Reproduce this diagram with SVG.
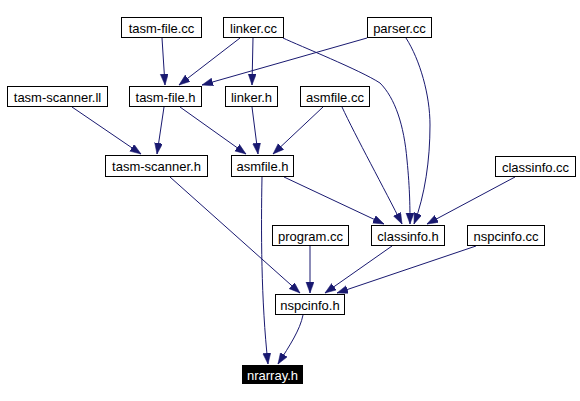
<svg xmlns="http://www.w3.org/2000/svg" width="580" height="401" viewBox="0 0 580 401">
<defs>
<marker id="arr" markerUnits="userSpaceOnUse" markerWidth="12" markerHeight="9" refX="11" refY="4" orient="auto">
<path d="M0,0 L11,4 L0,8 z" fill="#191970" stroke="#191970" stroke-width="0.5"/>
</marker>
<style>
.n rect{fill:#fff;stroke:#000;stroke-width:1}
.n text{font-family:"Liberation Sans",Arial,sans-serif;font-size:13px;text-anchor:middle;fill:#000}
#nrarray rect{fill:#000}
#nrarray text{fill:#fff}
.e path{fill:none;stroke:#191970;stroke-width:1;marker-end:url(#arr)}
</style>
</defs>
<rect width="580" height="401" fill="#fff"/>
<g id="edges" class="e">
<path d="M162,38 L165,85"/>
<path d="M240,38 L179,85"/>
<path d="M253,38 L252,85"/>
<path d="M283,38 C300,46 360,70 380,83 C395,98 404,125 407,160 C410,190 410,210 410,224"/>
<path d="M367,38 L202,85"/>
<path d="M406,38 C420,60 430,95 430,125 C430,160 425,195 414,224"/>
<path d="M72,107 L141,154"/>
<path d="M164,107 L157,154"/>
<path d="M180,107 L246,154"/>
<path d="M252,107 L258,154"/>
<path d="M323,107 L273,154"/>
<path d="M342,107 C355,135 385,190 402,224"/>
<path d="M284,177 L384,224"/>
<path d="M515,177 L427,224"/>
<path d="M170,177 L300,293"/>
<path d="M262,177 C261,230 261,300 268,364"/>
<path d="M310,246 L310,293"/>
<path d="M392,246 L325,293"/>
<path d="M476,246 L337,293"/>
<path d="M303,315 C300,330 290,345 278,364"/>
</g>
<g id="tasm-file-cc" class="n"><rect x="121.5" y="17.5" width="80" height="20"/><text x="161.5" y="33">tasm-file.cc</text></g>
<g id="linker-cc" class="n"><rect x="223.5" y="17.5" width="60" height="20"/><text x="253.5" y="33">linker.cc</text></g>
<g id="parser-cc" class="n"><rect x="367.5" y="17.5" width="64" height="20"/><text x="399.5" y="33">parser.cc</text></g>
<g id="tasm-scanner-ll" class="n"><rect x="7.5" y="86.5" width="100" height="20"/><text x="57.5" y="102">tasm-scanner.ll</text></g>
<g id="tasm-file-h" class="n"><rect x="129.5" y="86.5" width="72" height="20"/><text x="165.5" y="102">tasm-file.h</text></g>
<g id="linker-h" class="n"><rect x="225.5" y="86.5" width="52" height="20"/><text x="251.5" y="102">linker.h</text></g>
<g id="asmfile-cc" class="n"><rect x="300.5" y="86.5" width="69" height="20"/><text x="335" y="102">asmfile.cc</text></g>
<g id="tasm-scanner-h" class="n"><rect x="105.5" y="155.5" width="102" height="21"/><text x="156.5" y="171">tasm-scanner.h</text></g>
<g id="asmfile-h" class="n"><rect x="231.5" y="155.5" width="62" height="21"/><text x="262.5" y="171">asmfile.h</text></g>
<g id="classinfo-cc" class="n"><rect x="495.5" y="156.5" width="80" height="20"/><text x="535.5" y="172">classinfo.cc</text></g>
<g id="program-cc" class="n"><rect x="272.5" y="225.5" width="76" height="20"/><text x="310.5" y="241">program.cc</text></g>
<g id="classinfo-h" class="n"><rect x="371.5" y="225.5" width="73" height="20"/><text x="408" y="241">classinfo.h</text></g>
<g id="nspcinfo-cc" class="n"><rect x="467.5" y="225.5" width="77" height="20"/><text x="506" y="241">nspcinfo.cc</text></g>
<g id="nspcinfo-h" class="n"><rect x="275.5" y="294.5" width="69" height="20"/><text x="310" y="310">nspcinfo.h</text></g>
<g id="nrarray" class="n"><rect x="242.5" y="365.5" width="60" height="18"/><text x="272.5" y="380">nrarray.h</text></g>
</svg>
